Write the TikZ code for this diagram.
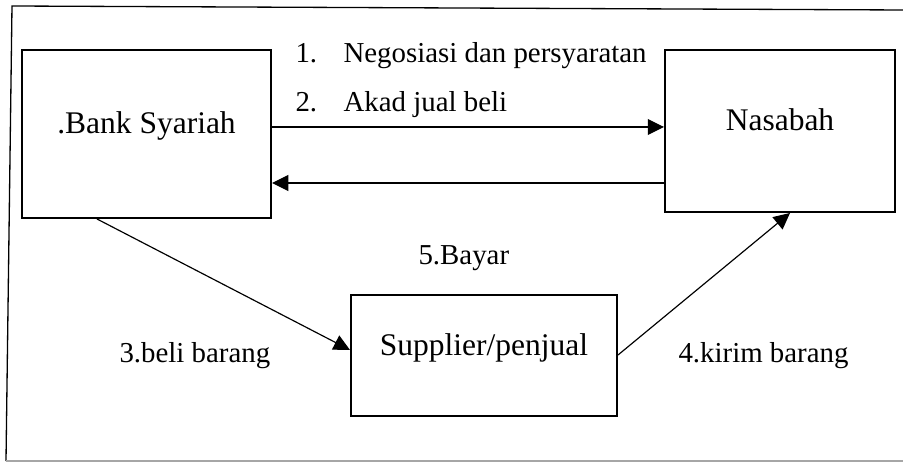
\documentclass[tikz,border=0pt]{standalone}
\usepackage{fontspec}
\setmainfont{Liberation Serif}
\usetikzlibrary{arrows.meta}

\begin{document}
\begin{tikzpicture}[x=0.381pt, y=-0.381pt,
        box/.style={draw, line width=0.75pt, text height=0pt, text depth=0pt, font=\fontsize{12}{14}\selectfont},
        lbl/.style={anchor=base west, inner sep=0pt, font=\fontsize{11}{13}\selectfont},
        arr/.style={-{Triangle[length=6.2pt,width=6pt]}, line width=0.45pt}]
    \useasboundingbox (0,0) rectangle (903,462);
    \draw[line width=0.5pt] (903,10) -- (12,6) -- (6,461);
    \draw[line width=0.4pt, gray!70] (6,461) -- (903,461);

    \node[box, minimum width=249*0.381pt, minimum height=168*0.381pt] (bank) at (146.5,134) {.Bank Syariah};
    \node[box, minimum width=230*0.381pt, minimum height=162*0.381pt] (nasabah) at (780,131) {Nasabah};
    \node[box, minimum width=266*0.381pt, minimum height=121*0.381pt] (supplier) at (484,355.5) {Supplier/penjual};

    \draw[arr] (bank.east |- 0,127) -- (nasabah.west |- 0,127);
    \draw[arr] (nasabah.west |- 0,183) -- (bank.east |- 0,183);
    \draw[arr] (bank.south -| 97,0) -- (supplier.west |- 0,350);
    \draw[arr] (supplier.east |- 0,355) -- (nasabah.south -| 790,0);

    \node[lbl] (l1) at (295,63) {\makebox[18.3pt][l]{1.}Negosiasi dan persyaratan};
    \node[lbl] (l2) at (295,112) {\makebox[18.3pt][l]{2.}Akad jual beli};
    \node[lbl] (l5) at (418,265) {5.Bayar};
    \node[lbl] (l3) at (119,362) {3.beli barang};
    \node[lbl] (l4) at (678,362) {4.kirim barang};
\end{tikzpicture}
\end{document}
